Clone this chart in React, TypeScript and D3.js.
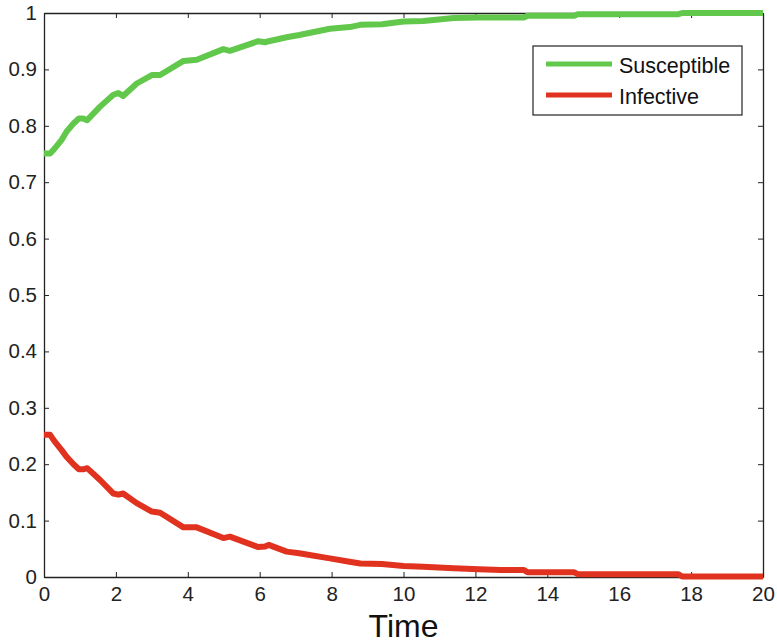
import React, { useEffect, useRef } from 'react';
import * as d3 from 'd3';

// time points (shared by both series)
const times = [0, 0.17, 0.3, 0.49, 0.63, 0.82, 0.97, 1.09, 1.2, 1.56, 1.93, 2.07, 2.2, 2.58, 3.0, 3.23, 3.88, 4.25, 4.99, 5.17, 5.96, 6.15, 6.25, 6.75, 7.1, 7.95, 8.5, 8.8, 9.4, 10.0, 10.55, 11.4, 12.1, 12.7, 13.35, 13.45, 14.75, 14.85, 17.65, 17.75, 20];

const susceptible = [0.751, 0.751, 0.76, 0.775, 0.79, 0.804, 0.813, 0.813, 0.81, 0.834, 0.855, 0.858, 0.853, 0.875, 0.89, 0.89, 0.915, 0.917, 0.936, 0.933, 0.95, 0.948, 0.95, 0.957, 0.961, 0.972, 0.975, 0.979, 0.98, 0.985, 0.986, 0.991, 0.992, 0.992, 0.992, 0.995, 0.995, 0.998, 0.998, 1.0, 1.0];

const infective = [0.252, 0.252, 0.24, 0.225, 0.213, 0.2, 0.191, 0.191, 0.193, 0.172, 0.148, 0.146, 0.148, 0.131, 0.116, 0.114, 0.088, 0.088, 0.069, 0.0715, 0.053, 0.054, 0.057, 0.045, 0.042, 0.033, 0.027, 0.024, 0.023, 0.0195, 0.018, 0.0154, 0.0136, 0.0124, 0.0124, 0.0083, 0.0083, 0.005, 0.005, 0.001, 0.001];

const seriesNames = ["Susceptible", "Infective"];
const seriesColors = ["#62c84c", "#e0321f"];

const xTicks = [0, 2, 4, 6, 8, 10, 12, 14, 16, 18, 20];
const yTicks = [0, 0.1, 0.2, 0.3, 0.4, 0.5, 0.6, 0.7, 0.8, 0.9, 1];
const xLabel = "Time";

const FONT = "'Liberation Sans', Arial, Helvetica, sans-serif";

export default function App() {
    const ref = useRef<SVGSVGElement | null>(null);

    useEffect(() => {
        const width = 777;
        const height = 643;
        const margin = { top: 13, right: 14, bottom: 66, left: 44 };
        const innerW = width - margin.left - margin.right;
        const innerH = height - margin.top - margin.bottom;

        const svg = d3.select(ref.current);
        svg.selectAll("*").remove();

        const g = svg.append("g")
            .attr("transform", `translate(${margin.left},${margin.top})`);

        const x = d3.scaleLinear().domain([0, 20]).range([0, innerW]);
        const y = d3.scaleLinear().domain([0, 1]).range([innerH, 0]);

        const styleAxis = (sel: any) => {
            sel.select(".domain").attr("stroke", "#222").attr("stroke-width", 1.3);
            sel.selectAll(".tick line").attr("stroke", "#222").attr("stroke-width", 1);
            sel.selectAll(".tick text")
                .attr("fill", "#222")
                .style("font-family", FONT)
                .style("font-size", "20.5px");
        };

        // bottom axis
        g.append("g")
            .attr("transform", `translate(0,${innerH})`)
            .call(d3.axisBottom(x).tickValues(xTicks).tickSize(-5).tickSizeOuter(0).tickPadding(9)
                .tickFormat((d: any) => String(d)))
            .call(styleAxis);

        // top axis
        g.append("g")
            .call(d3.axisTop(x).tickValues(xTicks).tickSize(-5).tickSizeOuter(0).tickFormat(() => ""))
            .call(styleAxis);

        // left axis
        g.append("g")
            .call(d3.axisLeft(y).tickValues(yTicks).tickSize(-5).tickSizeOuter(0).tickPadding(7)
                .tickFormat((d: any) => String(d)))
            .call(styleAxis);

        // right axis
        g.append("g")
            .attr("transform", `translate(${innerW},0)`)
            .call(d3.axisRight(y).tickValues(yTicks).tickSize(-5).tickSizeOuter(0).tickFormat(() => ""))
            .call(styleAxis);

        const line = d3.line<number>()
            .x((d, i) => x(times[i]))
            .y(d => y(d));

        [susceptible, infective].forEach((vals, k) => {
            g.append("path")
                .attr("d", line(vals))
                .attr("fill", "none")
                .attr("stroke", seriesColors[k])
                .attr("stroke-width", 6)
                .attr("stroke-linejoin", "round");
        });

        // x label
        svg.append("text")
            .attr("x", margin.left + innerW / 2)
            .attr("y", 637)
            .attr("text-anchor", "middle")
            .style("font-family", FONT)
            .style("font-size", "32px")
            .attr("fill", "#111")
            .text(xLabel);

        // legend
        const legend = svg.append("g").attr("transform", "translate(533,46)");
        legend.append("rect")
            .attr("width", 209)
            .attr("height", 69)
            .attr("fill", "white")
            .attr("stroke", "#222")
            .attr("stroke-width", 1.2);

        const item = legend.selectAll("g.item")
            .data(seriesNames)
            .enter().append("g")
            .attr("class", "item")
            .attr("transform", (d, i) => `translate(0,${18 + i * 31})`);

        item.append("line")
            .attr("x1", 13)
            .attr("x2", 79)
            .attr("stroke", (d, i) => seriesColors[i])
            .attr("stroke-width", 5);

        item.append("text")
            .attr("x", 86)
            .attr("dy", "0.4em")
            .style("font-family", FONT)
            .style("font-size", "21.5px")
            .attr("fill", "#111")
            .text(d => d);
    }, []);

    return (
        <svg ref={ref} width={777} height={643}
            style={{ position: "absolute", left: 0, top: 0, background: "white" }} />
    );
}
